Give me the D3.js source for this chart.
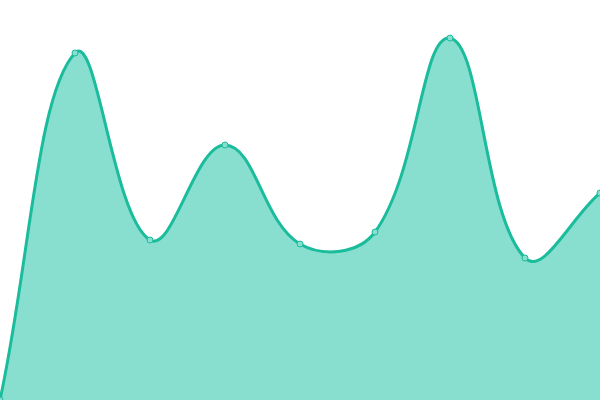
<!DOCTYPE html>
<html>
<head>
<meta charset="utf-8">
<script src="https://cdn.jsdelivr.net/npm/d3@7"></script>
<style>
html,body{margin:0;padding:0;background:#fff;overflow:hidden;}
svg{display:block;}
</style>
</head>
<body>
<svg id="chart" width="600" height="400"></svg>
<script>
const categories = [0, 1, 2, 3, 4, 5, 6, 7, 8];
const values = [0, 347, 160, 255, 156, 168, 362, 142, 207];

const W = 600, H = 400;
const TENSION = 0.4;
const svg = d3.select("#chart");
const x = d3.scaleLinear().domain([0, categories.length - 1]).range([0, W]);
const y = d3.scaleLinear().domain([0, 400]).range([H, 0]);

const pts = categories.map((c, i) => ({x: x(c), y: y(values[i])}));

// spline control points (tension-based, distance-weighted)
pts.forEach((cur, i) => {
  const prev = pts[i - 1] || cur;
  const next = pts[i + 1] || cur;
  const d01 = Math.hypot(cur.x - prev.x, cur.y - prev.y);
  const d12 = Math.hypot(next.x - cur.x, next.y - cur.y);
  let s01 = d01 / (d01 + d12), s12 = d12 / (d01 + d12);
  if (isNaN(s01)) s01 = 0;
  if (isNaN(s12)) s12 = 0;
  const fa = TENSION * s01, fb = TENSION * s12;
  const clampX = v => Math.max(0, Math.min(W, v));
  const clampY = v => Math.max(0, Math.min(H, v));
  cur.cpPrev = {x: clampX(cur.x - fa * (next.x - prev.x)), y: clampY(cur.y - fa * (next.y - prev.y))};
  cur.cpNext = {x: clampX(cur.x + fb * (next.x - prev.x)), y: clampY(cur.y + fb * (next.y - prev.y))};
});

function linePath(p) {
  p.moveTo(pts[0].x, pts[0].y);
  for (let i = 1; i < pts.length; i++) {
    const a = pts[i - 1], b = pts[i];
    p.bezierCurveTo(a.cpNext.x, a.cpNext.y, b.cpPrev.x, b.cpPrev.y, b.x, b.y);
  }
  return p;
}

const areaP = linePath(d3.path());
areaP.lineTo(pts[pts.length - 1].x, y(0));
areaP.lineTo(pts[0].x, y(0));
areaP.closePath();

svg.append("path")
  .attr("fill", "#89dfcf")
  .attr("d", areaP.toString());

svg.append("path")
  .attr("fill", "none")
  .attr("stroke", "#1abc9c")
  .attr("stroke-width", 3)
  .attr("d", linePath(d3.path()).toString());

svg.selectAll("circle.pt")
  .data(pts)
  .join("circle")
  .attr("class", "pt")
  .attr("cx", d => d.x)
  .attr("cy", d => d.y)
  .attr("r", 3)
  .attr("fill", "#89dfcf")
  .attr("stroke", "#1abc9c")
  .attr("stroke-width", 1);
</script>
</body>
</html>
